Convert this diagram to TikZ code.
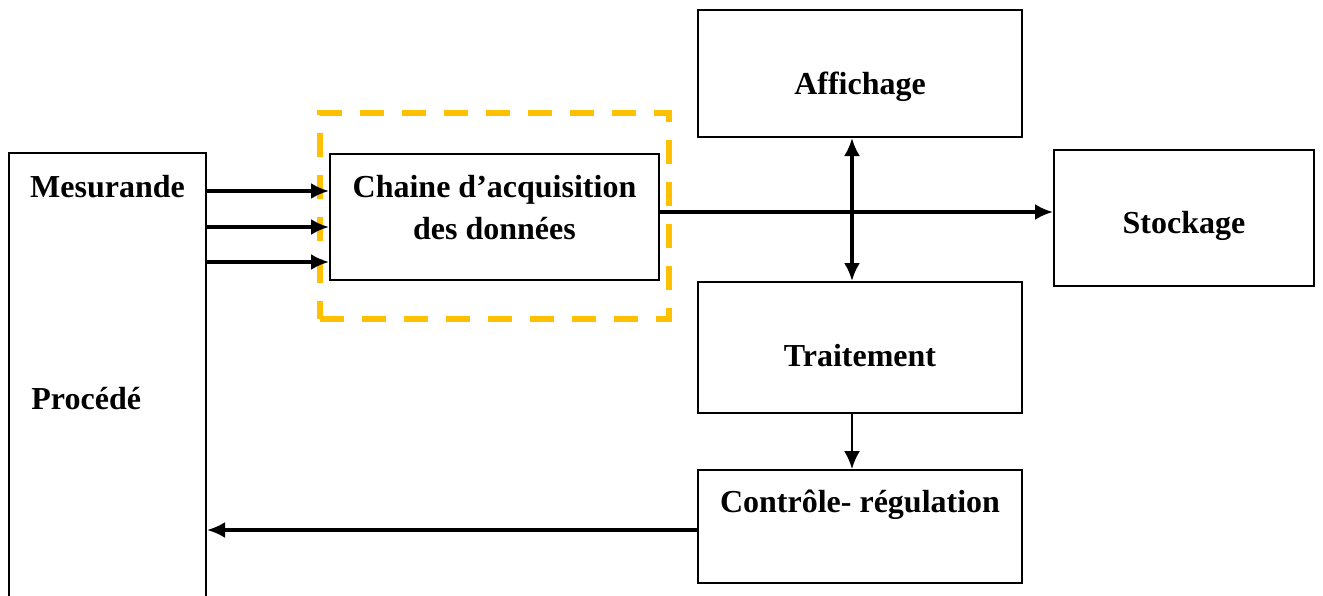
\documentclass[tikz,border=0pt]{standalone}
\usepackage{fontspec}
\setmainfont{Liberation Serif}
\usepackage{tikz}
\usetikzlibrary{positioning, arrows.meta}

\tikzset{
    bloc/.style={draw, line width=1pt, inner sep=0pt},
    texte/.style={inner sep=0pt, font=\bfseries\fontsize{16}{21}\selectfont, align=center},
    fleche/.style={line width=1.6pt, -{Latex[length=9pt, width=8pt]}},
}

\begin{document}
\begin{tikzpicture}[x=0.5pt, y=-0.5pt]
        \useasboundingbox (0,0) rectangle (1323,595);
        \node [bloc, minimum width=98.5pt, minimum height=233.5pt] (procede) at (107.5,386.5) {};
        \node [texte] (mesurande) at (107.5,187) {Mesurande};
        \node [texte, anchor=west] (proc) at (31,399) {Procédé};
        \node [draw, line width=3pt, color={rgb,255:red,255;green,192;blue,0}, dash pattern=on 12pt off 9pt, minimum width=174.5pt, minimum height=103pt] (zone) at (494.5,216) {};
        \node [bloc, minimum width=164.5pt, minimum height=63pt] (acq) at (494.5,217) {};
        \node [texte] (acqtxt) at (494.5,208) {Chaine d’acquisition\\des données};
        \node [bloc, minimum width=162pt, minimum height=63.5pt] (aff) at (860,73.5) {};
        \node [texte] (afftxt) at (860,86.5) {Affichage};
        \node [bloc, minimum width=130pt, minimum height=68pt] (stock) at (1184,218) {};
        \node [texte] (stocktxt) at (1184,226) {Stockage};
        \node [bloc, minimum width=162pt, minimum height=65.5pt] (trait) at (860,347.5) {};
        \node [texte] (traittxt) at (860,355.5) {Traitement};
        \node [bloc, minimum width=162pt, minimum height=56.5pt] (ctrl) at (860,526.5) {};
        \node [texte] (ctrltxt) at (860,505) {Contrôle- régulation};
        \draw [fleche] (procede.east |- 0,191) -- (acq.west |- 0,191);
        \draw [fleche] (procede.east |- 0,227) -- (acq.west |- 0,227);
        \draw [fleche] (procede.east |- 0,262) -- (acq.west |- 0,262);
        \draw [fleche] ([yshift=2.5pt]acq.east) -- (stock.west |- 0,212);
        \draw [fleche, {Latex[length=9pt, width=8pt]}-{Latex[length=9pt, width=8pt]}] ([xshift=-4pt]aff.south) -- ([xshift=-4pt]trait.north);
        \draw [fleche, line width=1.1pt] ([xshift=-4pt]trait.south) -- ([xshift=-4pt]ctrl.north);
        \draw [fleche] (ctrl.west |- 0,530) -- (procede.east |- 0,530);
    \end{tikzpicture}
\end{document}
